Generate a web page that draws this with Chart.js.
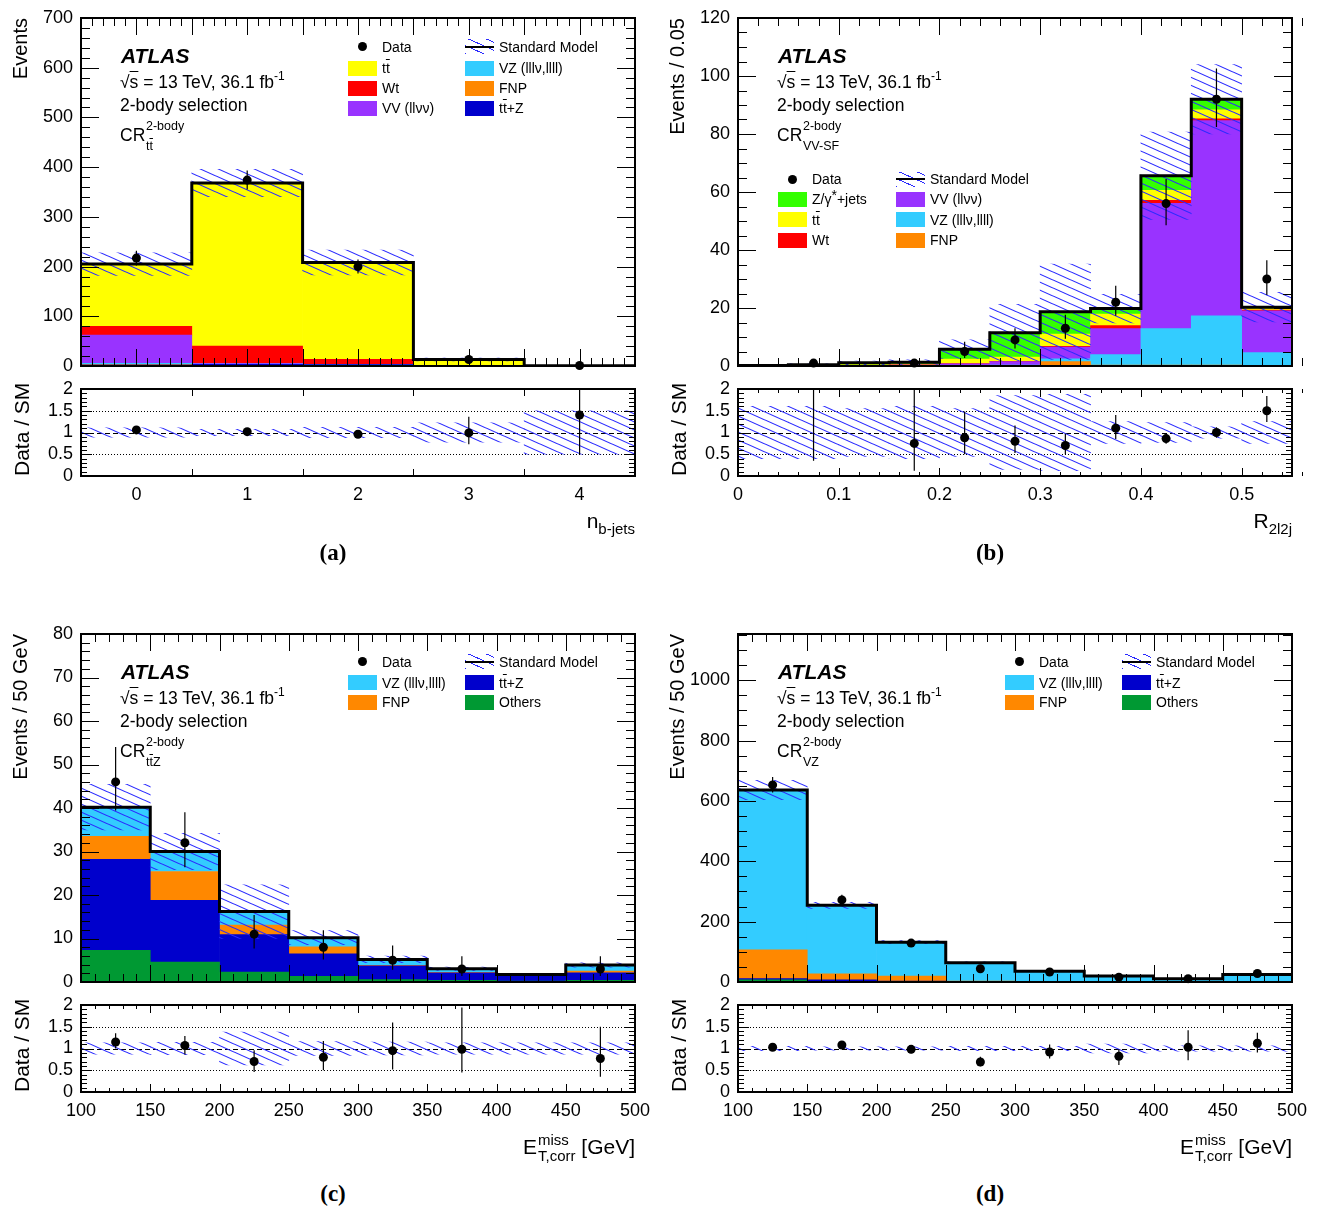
<!DOCTYPE html>
<html>
<head>
<meta charset="utf-8">
<title>ATLAS 2-body control regions</title>
<script src="https://cdn.jsdelivr.net/npm/chart.js@4.4.1/dist/chart.umd.min.js"></script>
<style>
  body { margin: 0; background: #fff; }
  #page { position: relative; width: 1318px; height: 1208px; overflow: hidden; color: #000;
          font-family: "Liberation Sans", Arial, Helvetica, sans-serif; }
  #page canvas { position: absolute; }
  .t { position: absolute; white-space: nowrap; line-height: 1; }
  .ob { text-decoration: overline; }
  .vt { position: absolute; writing-mode: vertical-rl; transform: rotate(180deg); white-space: nowrap;
        line-height: 20px; font-size: 20px; }
  .tag { font-family: "Liberation Serif", "Times New Roman", serif; font-weight: bold; }
</style>
</head>
<body>
<div id="page"></div>
<script>
// ---------- (a) n_b-jets in CR tt ----------
var binsA  = [0, 1, 2, 3, 4];
var edgesA = [-0.5, 0.5, 1.5, 2.5, 3.5, 4.5];
var fnpA = [2.5, 1, 0.3, 0, 0];
var ttzA = [0.5, 2.5, 2.5, 0.8, 0.05];
var vzA  = [2.5, 0.5, 0.2, 0, 0];
var vvA  = [56.5, 1.5, 0.3, 0, 0];
var wtA  = [18, 34.5, 10, 0.7, 0.05];
var ttA  = [125, 328, 194.7, 11.5, 0.6];
var dataA   = [217, 374, 200, 13, 1];
var dataUpA = [15, 19, 14, 4.7, 2.3];
var dataDnA = [15, 19, 14, 3.6, 0.8];
var uncA    = [0.11, 0.075, 0.12, 0.22, 0.5];
var ratioA   = [1.06, 1.02, 0.96, 0.99, 1.4];
var ratioUpA = [0.07, 0.05, 0.07, 0.37, 1.9];
var ratioDnA = [0.07, 0.05, 0.07, 0.26, 0.92];
var xLabelsA = [0, 1, 2, 3, 4];
var yLabelsA = [0, 100, 200, 300, 400, 500, 600, 700];

// ---------- (b) R_2l2j in CR VV-SF ----------
var binsB  = [0.025, 0.075, 0.125, 0.175, 0.225, 0.275, 0.325, 0.375, 0.425, 0.475, 0.525];
var edgesB = [0, 0.05, 0.1, 0.15, 0.2, 0.25, 0.3, 0.35, 0.4, 0.45, 0.5, 0.55];
var fnpB = [0, 0, 0, 0, 0.05, 0.1, 1.5, 0.3, 0.3, 0.3, 0.1];
var vzB  = [0, 0.01, 0.02, 0.04, 0.1, 0.2, 1.0, 3.6, 12.6, 17.0, 4.5];
var vvB  = [0.03, 0.08, 0.2, 0.3, 0.6, 1.2, 4.0, 9.0, 43.2, 67.3, 14.4];
var wtB  = [0, 0.01, 0.03, 0.04, 0.1, 0.1, 0.3, 1.0, 1.0, 0.6, 0.3];
var ttB  = [0.02, 0.07, 0.2, 0.25, 1.5, 1.5, 4.2, 4.0, 3.5, 3.1, 0.5];
var zjB  = [0.15, 0.28, 0.65, 0.7, 3.45, 8.4, 7.7, 1.9, 5.0, 3.7, 0.5];
var dataB   = [null, 1, null, 1, 5, 9, 13, 22, 56, 92, 30];
var dataUpB = [0, 1.3, 0, 1.3, 3.4, 4, 4.7, 5.7, 8.5, 10.6, 6.5];
var dataDnB = [0, 0.8, 0, 0.8, 2.2, 3, 3.6, 4.7, 7.5, 9.6, 5.5];
var uncB    = [0.6, 0.6, 0.55, 0.6, 0.55, 0.85, 0.88, 0.25, 0.23, 0.13, 0.25];
var ratioB   = [null, 2.2, null, 0.75, 0.88, 0.8, 0.7, 1.1, 0.86, 1.0, 1.5];
var ratioUpB = [0, 2.9, 0, 1.7, 0.6, 0.36, 0.27, 0.3, 0.11, 0.12, 0.34];
var ratioDnB = [0, 1.85, 0, 0.63, 0.38, 0.27, 0.2, 0.25, 0.12, 0.12, 0.26];
var xLabelsB = [0, 0.1, 0.2, 0.3, 0.4, 0.5];
var yLabelsB = [0, 20, 40, 60, 80, 100, 120];

// ---------- (c) ETmiss in CR ttZ, (d) ETmiss in CR VZ ----------
var binsCD  = [125, 175, 225, 275, 325, 375, 425, 475];
var edgesCD = [100, 150, 200, 250, 300, 350, 400, 450, 500];
var xLabelsCD = [100, 150, 200, 250, 300, 350, 400, 450, 500];

var othC = [7.3, 4.6, 2.3, 1.3, 0.55, 0.4, 0.2, 0.4];
var ttzC = [20.9, 14.2, 8.6, 5.2, 3.15, 1.7, 1.2, 1.7];
var fnpC = [5.3, 6.6, 2.2, 1.6, 0.15, 0.1, 0.05, 0.4];
var vzC  = [6.7, 4.6, 3.1, 2.1, 1.35, 0.85, 0.25, 1.4];
var dataC   = [46, 32, 11, 8, 5, 3, null, 3];
var dataUpC = [8, 7, 4.4, 3.9, 3.4, 2.9, 0, 2.9];
var dataDnC = [6.6, 5.6, 3.3, 2.8, 2.2, 1.6, 0, 1.6];
var uncC    = [0.13, 0.14, 0.38, 0.16, 0.15, 0.13, 0.13, 0.13];
var ratioC   = [1.15, 1.07, 0.7, 0.8, 0.95, 0.98, null, 0.77];
var ratioUpC = [0.2, 0.22, 0.26, 0.37, 0.65, 0.96, 0, 0.73];
var ratioDnC = [0.15, 0.21, 0.24, 0.3, 0.43, 0.53, 0, 0.42];
var yLabelsC = [0, 10, 20, 30, 40, 50, 60, 70, 80];

var othD = [7, 2, 1, 0.5, 0.3, 0.2, 0.1, 0.2];
var ttzD = [4, 5, 2, 1, 0.5, 0.3, 0.2, 0.3];
var fnpD = [96, 20, 17, 1.5, 0.7, 0.5, 0.2, 0.5];
var vzD  = [529, 227, 112, 61, 34.5, 19, 10.2, 24];
var dataD   = [653, 272, 129, 44, 33, 16, 11, 28];
var dataUpD = [26, 17, 12, 7.7, 6.8, 5.1, 4.4, 6.4];
var dataDnD = [25, 16, 11, 6.6, 5.7, 4, 3.3, 5.3];
var uncD    = [0.05, 0.04, 0.04, 0.05, 0.05, 0.1, 0.06, 0.06];
var ratioD   = [1.03, 1.08, 0.98, 0.69, 0.92, 0.82, 1.03, 1.12];
var ratioUpD = [0.04, 0.06, 0.09, 0.12, 0.17, 0.16, 0.39, 0.24];
var ratioDnD = [0.04, 0.06, 0.09, 0.1, 0.15, 0.2, 0.3, 0.21];
var yLabelsD = [0, 200, 400, 600, 800, 1000];

var ratioLabels = [0, 0.5, 1, 1.5, 2];

// ---------- style ----------
var COL = { tt: '#ffff00', wt: '#ff0000', vv: '#9933ff', vz: '#33ccff', fnp: '#ff8800',
            ttz: '#0000cc', zj: '#33ff00', oth: '#009933', hatch: '#2b2bff' };
var FONT = '"Liberation Sans", Arial, Helvetica, sans-serif';
var page = document.getElementById('page');

function add(cls, css, html) {
  var e = document.createElement('div');
  e.className = cls;
  e.style.cssText = css;
  if (html != null) e.innerHTML = html;
  page.appendChild(e);
  return e;
}
function text(x, y, html, size, css) {
  return add('t', 'left:' + x + 'px;top:' + y + 'px;font-size:' + size + 'px;' + (css || ''), html);
}
function canvasAt(x, y, w, h) {
  var c = document.createElement('canvas');
  c.width = w; c.height = h;
  c.style.left = x + 'px'; c.style.top = y + 'px';
  page.appendChild(c);
  return c;
}
function hatchFor(canvas) {
  var tile = document.createElement('canvas');
  tile.width = 18; tile.height = 8;
  var g = tile.getContext('2d');
  g.strokeStyle = COL.hatch; g.lineWidth = 1.1;
  for (var k = -1; k <= 1; k++) {
    g.beginPath(); g.moveTo(-9, -4 + 8 * k); g.lineTo(27, 12 + 8 * k); g.stroke();
  }
  return canvas.getContext('2d').createPattern(tile, 'repeat');
}
function xy(xs, ys) {
  return xs.map(function (x, i) { return { x: x, y: ys[i] }; });
}
function fmt(v) { return String(+Number(v).toFixed(4)); }
function fixTicks(list) {
  return function (s) { s.ticks = list.map(function (v) { return { value: v }; }); };
}

// ROOT-like frame: inner ticks on four sides, reference lines, error bars
function axisTicks(ctx, s, a, t, horiz) {
  var list = t.major.map(function (v) { return [v, t.majorLen]; });
  if (t.minorStep) {
    var n = Math.round((s.max - s.min) / t.minorStep);
    for (var i = 0; i <= n; i++) list.push([s.min + i * t.minorStep, t.minorLen]);
  }
  ctx.beginPath();
  list.forEach(function (p) {
    var px = Math.round(s.getPixelForValue(p[0])) + 0.5;
    if (horiz) {
      ctx.moveTo(px, a.bottom); ctx.lineTo(px, a.bottom - p[1]);
      ctx.moveTo(px, a.top); ctx.lineTo(px, a.top + p[1]);
    } else {
      ctx.moveTo(a.left, px); ctx.lineTo(a.left + p[1], px);
      ctx.moveTo(a.right, px); ctx.lineTo(a.right - p[1], px);
    }
  });
  ctx.stroke();
}
function makeFrame(cfg) {
  return {
    id: 'rootFrame',
    beforeDatasetsDraw: function (chart) {
      if (!cfg.refs) return;
      var ctx = chart.ctx, a = chart.chartArea, y = chart.scales.y;
      ctx.save();
      ctx.strokeStyle = '#000'; ctx.lineWidth = 1;
      cfg.refs.forEach(function (r) {
        var py = Math.round(y.getPixelForValue(r.v)) + 0.5;
        ctx.setLineDash(r.dash);
        ctx.beginPath(); ctx.moveTo(a.left, py); ctx.lineTo(a.right, py); ctx.stroke();
      });
      ctx.restore();
    },
    beforeDatasetDraw: function (chart, args) {
      var ds = chart.data.datasets[args.index];
      if (!ds.errUp) return;
      var ctx = chart.ctx, a = chart.chartArea, y = chart.scales.y;
      ctx.save();
      ctx.beginPath(); ctx.rect(a.left, a.top, a.right - a.left, a.bottom - a.top); ctx.clip();
      ctx.strokeStyle = '#000'; ctx.lineWidth = 1.2;
      args.meta.data.forEach(function (pt, i) {
        var v = ds.data[i].y;
        if (v === null) return;
        ctx.beginPath();
        ctx.moveTo(pt.x, y.getPixelForValue(v + ds.errUp[i]));
        ctx.lineTo(pt.x, y.getPixelForValue(v - ds.errDn[i]));
        ctx.stroke();
      });
      ctx.restore();
    },
    afterDatasetsDraw: function (chart) {
      var ctx = chart.ctx, a = chart.chartArea;
      ctx.save();
      ctx.strokeStyle = '#000'; ctx.lineWidth = 1;
      axisTicks(ctx, chart.scales.x, a, cfg.x, true);
      axisTicks(ctx, chart.scales.y, a, cfg.y, false);
      ctx.lineWidth = 2;
      ctx.strokeRect(a.left, a.top, a.right - a.left, a.bottom - a.top);
      ctx.restore();
    }
  };
}

function yAxis(labels, max, stacked) {
  return {
    type: 'linear', min: 0, max: max, stacked: stacked,
    grid: { display: false, drawTicks: false }, border: { display: false },
    ticks: { color: '#000', padding: 8, autoSkip: false,
             font: { family: FONT, size: 18, lineHeight: 1 }, callback: fmt },
    afterBuildTicks: fixTicks(labels),
    afterFit: function (s) { s.width = 81; s.paddingTop = 0; s.paddingBottom = 0; }
  };
}
var baseOpts = { responsive: false, animation: false, events: [] };
var noPlugins = { legend: { display: false }, tooltip: { enabled: false } };

function drawMain(p) {
  var cv = canvasAt(p.x0, p.y0, 660, 380);
  var pat = hatchFor(cv);
  var n = p.centers.length;
  var total = p.centers.map(function (c, i) {
    return p.comps.reduce(function (s, k) { return s + k[0][i]; }, 0);
  });
  var sets = p.comps.map(function (k) {
    return { type: 'bar', stack: 'sm', order: 3, data: xy(p.centers, k[0]), backgroundColor: k[1],
             borderWidth: 0, barPercentage: 1, categoryPercentage: 1 };
  });
  sets.push({ type: 'bar', stack: 'band', grouped: false, order: 2, backgroundColor: pat, borderWidth: 0,
              barPercentage: 1, categoryPercentage: 1,
              data: p.centers.map(function (c, i) {
                return { x: c, y: [total[i] * (1 - p.unc[i]), total[i] * (1 + p.unc[i])] };
              }) });
  // SM outline: value of bin i held from edge i to edge i+1
  sets.push({ type: 'line', stack: 'outline', order: 1, stepped: 'before', borderColor: '#000', borderWidth: 3,
              pointRadius: 0, fill: false,
              data: p.edges.map(function (e, i) { return { x: e, y: total[Math.min(i, n - 1)] }; }) });
  sets.push({ type: 'scatter', stack: 'obs', order: 0, clip: false, pointRadius: 4.5,
              pointBackgroundColor: '#000', pointBorderWidth: 0,
              data: xy(p.centers, p.data), errUp: p.up, errDn: p.dn });
  new Chart(cv, {
    type: 'bar',
    data: { datasets: sets },
    options: Object.assign({}, baseOpts, {
      layout: { padding: { left: 0, right: 25, top: 18, bottom: 14 } },
      plugins: noPlugins,
      scales: {
        x: { type: 'linear', min: p.xMin, max: p.xMax, offset: false, stacked: true, display: false,
             afterBuildTicks: fixTicks(p.xLabels) },
        y: yAxis(p.yLabels, p.yMax, true)
      }
    }),
    plugins: [makeFrame({ x: p.mainX, y: { major: p.yLabels, majorLen: 18, minorStep: p.yMinor, minorLen: 9 } })]
  });
}

function drawRatio(p) {
  var cv = canvasAt(p.x0, p.y0 + 380, 660, 180);
  var pat = hatchFor(cv);
  var sets = [
    { type: 'bar', order: 2, backgroundColor: pat, borderWidth: 0, barPercentage: 1, categoryPercentage: 1,
      data: p.centers.map(function (c, i) { return { x: c, y: [1 - p.unc[i], 1 + p.unc[i]] }; }) },
    { type: 'scatter', order: 0, clip: 0, pointRadius: 4.5, pointBackgroundColor: '#000', pointBorderWidth: 0,
      data: xy(p.centers, p.ratio), errUp: p.rUp, errDn: p.rDn }
  ];
  new Chart(cv, {
    type: 'bar',
    data: { datasets: sets },
    options: Object.assign({}, baseOpts, {
      layout: { padding: { left: 0, right: 25, top: 9, bottom: 0 } },
      plugins: noPlugins,
      scales: {
        x: { type: 'linear', min: p.xMin, max: p.xMax, offset: false,
             grid: { display: false, drawTicks: false }, border: { display: false },
             ticks: { color: '#000', padding: 10, maxRotation: 0, autoSkip: false,
                      font: { family: FONT, size: 18, lineHeight: 1 }, callback: fmt },
             afterBuildTicks: fixTicks(p.xLabels),
             afterFit: function (s) { s.height = 84; s.paddingLeft = 0; s.paddingRight = 0; } },
        y: yAxis(ratioLabels, 2, false)
      }
    }),
    plugins: [makeFrame({
      x: p.ratioX,
      y: { major: ratioLabels, majorLen: 11, minorStep: 0.1, minorLen: 6 },
      refs: [{ v: 1, dash: [5, 3] }, { v: 0.5, dash: [1, 2] }, { v: 1.5, dash: [1, 2] }]
    })]
  });
}

var TTB = 't<span class="ob">t</span>';
var panels = [
  { x0: 0, y0: 0, centers: binsA, edges: edgesA, xMin: -0.5, xMax: 4.5, yMax: 700, yMinor: 20,
    comps: [[fnpA, COL.fnp], [ttzA, COL.ttz], [vzA, COL.vz], [vvA, COL.vv], [wtA, COL.wt], [ttA, COL.tt]],
    data: dataA, up: dataUpA, dn: dataDnA, unc: uncA, ratio: ratioA, rUp: ratioUpA, rDn: ratioDnA,
    xLabels: xLabelsA, yLabels: yLabelsA,
    mainX: { major: edgesA.concat(binsA), majorLen: 17, minorStep: 0.1, minorLen: 8 },
    ratioX: { major: edgesA, majorLen: 7, minorStep: 0 },
    yTitle: 'Events', cr: TTB, tag: '(a)', tagTop: 541, xTitleTop: 510,
    xTitle: 'n<span style="font-size:15px;position:relative;top:6px">b-jets</span>',
    legend: [[348, 46.5, 'data', 'Data'], [348, 68, COL.tt, TTB], [348, 88, COL.wt, 'Wt'],
             [348, 108, COL.vv, 'VV (llνν)'], [465, 46.5, 'sm', 'Standard Model'],
             [465, 68, COL.vz, 'VZ (lllν,llll)'], [465, 88, COL.fnp, 'FNP'], [465, 108, COL.ttz, TTB + '+Z']] },
  { x0: 657, y0: 0, centers: binsB, edges: edgesB, xMin: 0, xMax: 0.55, yMax: 120, yMinor: 5,
    comps: [[fnpB, COL.fnp], [vzB, COL.vz], [vvB, COL.vv], [wtB, COL.wt], [ttB, COL.tt], [zjB, COL.zj]],
    data: dataB, up: dataUpB, dn: dataDnB, unc: uncB, ratio: ratioB, rUp: ratioUpB, rDn: ratioDnB,
    xLabels: xLabelsB, yLabels: yLabelsB,
    mainX: { major: xLabelsB, majorLen: 17, minorStep: 0.02, minorLen: 8 },
    ratioX: { major: xLabelsB, majorLen: 8, minorStep: 0.02, minorLen: 4 },
    yTitle: 'Events / 0.05', cr: 'VV-SF', tag: '(b)', tagTop: 541, xTitleTop: 510,
    xTitle: 'R<span style="font-size:15px;position:relative;top:6px">2l2j</span>',
    legend: [[121, 179, 'data', 'Data'], [121, 199, COL.zj, 'Z/γ<span style="position:relative;top:-4px">*</span>+jets'],
             [121, 219.5, COL.tt, TTB], [121, 240, COL.wt, 'Wt'], [239, 179, 'sm', 'Standard Model'],
             [239, 199, COL.vv, 'VV (llνν)'], [239, 219.5, COL.vz, 'VZ (lllν,llll)'], [239, 240, COL.fnp, 'FNP']] },
  { x0: 0, y0: 616, centers: binsCD, edges: edgesCD, xMin: 100, xMax: 500, yMax: 80, yMinor: 2,
    comps: [[othC, COL.oth], [ttzC, COL.ttz], [fnpC, COL.fnp], [vzC, COL.vz]],
    data: dataC, up: dataUpC, dn: dataDnC, unc: uncC, ratio: ratioC, rUp: ratioUpC, rDn: ratioDnC,
    xLabels: xLabelsCD, yLabels: yLabelsC,
    mainX: { major: xLabelsCD, majorLen: 17, minorStep: 10, minorLen: 8 },
    ratioX: { major: xLabelsCD, majorLen: 8, minorStep: 10, minorLen: 4 },
    yTitle: 'Events / 50 GeV', cr: TTB + 'Z', tag: '(c)', tagTop: 566, xTitleTop: 516,
    legend: [[348, 45.5, 'data', 'Data'], [348, 66.5, COL.vz, 'VZ (lllν,llll)'], [348, 86, COL.fnp, 'FNP'],
             [465, 45.5, 'sm', 'Standard Model'], [465, 66.5, COL.ttz, TTB + '+Z'], [465, 86, COL.oth, 'Others']] },
  { x0: 657, y0: 616, centers: binsCD, edges: edgesCD, xMin: 100, xMax: 500, yMax: 1153, yMinor: 50,
    comps: [[othD, COL.oth], [ttzD, COL.ttz], [fnpD, COL.fnp], [vzD, COL.vz]],
    data: dataD, up: dataUpD, dn: dataDnD, unc: uncD, ratio: ratioD, rUp: ratioUpD, rDn: ratioDnD,
    xLabels: xLabelsCD, yLabels: yLabelsD,
    mainX: { major: xLabelsCD, majorLen: 17, minorStep: 10, minorLen: 8 },
    ratioX: { major: xLabelsCD, majorLen: 8, minorStep: 10, minorLen: 4 },
    yTitle: 'Events / 50 GeV', cr: 'VZ', tag: '(d)', tagTop: 566, xTitleTop: 516,
    legend: [[348, 45.5, 'data', 'Data'], [348, 66.5, COL.vz, 'VZ (lllν,llll)'], [348, 86, COL.fnp, 'FNP'],
             [465, 45.5, 'sm', 'Standard Model'], [465, 66.5, COL.ttz, TTB + '+Z'], [465, 86, COL.oth, 'Others']] }
];
var ETMISS = 'E<span style="display:inline-block;font-size:15px;line-height:16px;vertical-align:-7px;margin-left:1px">' +
             '<span style="display:block">miss</span><span style="display:block">T,corr</span></span> [GeV]';

function drawTexts(p) {
  var X = p.x0, Y = p.y0;
  text(X + 121, Y + 44.5, 'ATLAS', 21, 'font-weight:bold;font-style:italic;');
  text(X + 120, Y + 74, '√<span class="ob">s</span> = 13 TeV, 36.1 fb' +
       '<span style="font-size:12px;position:relative;top:-8px">-1</span>', 17.5);
  text(X + 120, Y + 97, '2-body selection', 17.5);
  text(X + 120, Y + 127, 'CR', 17.5);
  text(X + 146, Y + 120, '2-body', 12.5);
  text(X + 146, Y + 139.5, p.cr, 12.5);
  add('vt', 'left:' + (X + 10) + 'px;top:' + (Y + 18) + 'px;', p.yTitle);
  add('vt', 'left:' + (X + 12) + 'px;top:' + (Y + 379) + 'px;height:100px;text-align:center;font-size:21px;', 'Data / SM');
  add('t', 'right:' + (1318 - X - 635) + 'px;top:' + (Y + p.xTitleTop) + 'px;font-size:21px;', p.xTitle || ETMISS);
  add('t tag', 'left:' + (X + 333) + 'px;top:' + (Y + p.tagTop) + 'px;font-size:23px;transform:translateX(-50%);', p.tag);
  p.legend.forEach(function (it) {
    var bx = X + it[0], cy = Y + it[1];
    if (it[2] === 'data') {
      add('t', 'left:' + (bx + 10) + 'px;top:' + (cy - 4.5) + 'px;width:9px;height:9px;border-radius:50%;background:#000;');
    } else if (it[2] === 'sm') {
      add('t', 'left:' + bx + 'px;top:' + (cy - 7.5) + 'px;width:29px;height:15px;background:repeating-linear-gradient(24deg,' +
          COL.hatch + ' 0px,' + COL.hatch + ' 1px,transparent 1px,transparent 7.3px);');
      add('t', 'left:' + bx + 'px;top:' + (cy - 1) + 'px;width:29px;height:2px;background:#000;');
    } else {
      add('t', 'left:' + bx + 'px;top:' + (cy - 7.5) + 'px;width:29px;height:15px;background:' + it[2] + ';');
    }
    text(bx + 34, cy - 6.9, it[3], 14);
  });
}

panels.forEach(function (p) {
  drawMain(p);
  drawRatio(p);
  drawTexts(p);
});
</script>
</body>
</html>
